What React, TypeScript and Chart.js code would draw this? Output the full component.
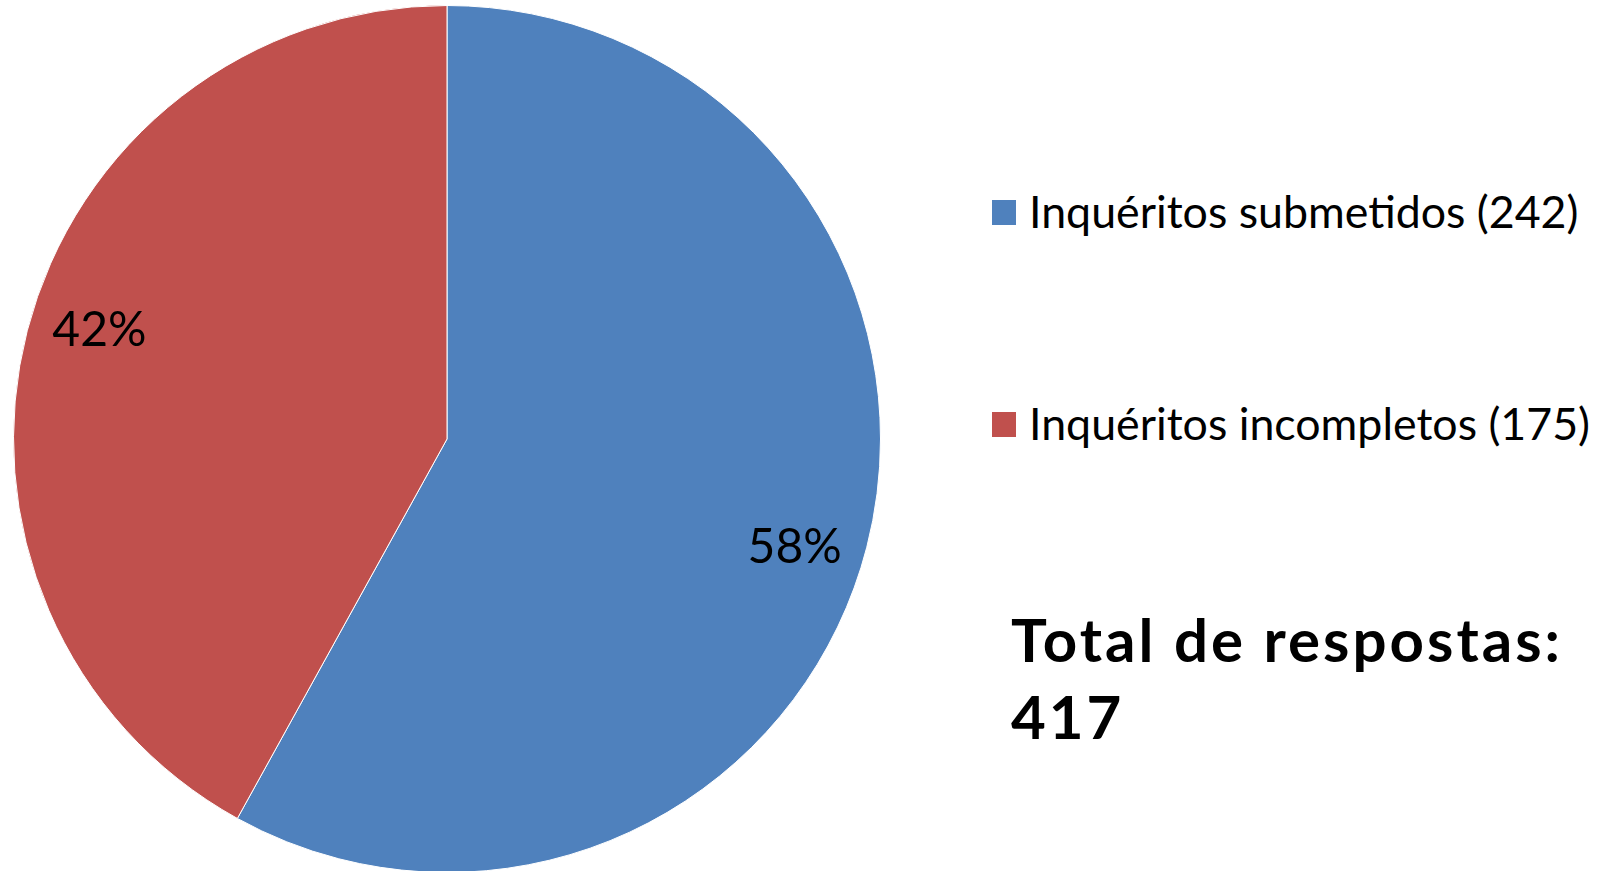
import React, { useEffect, useRef } from "react";
import { Chart, registerables } from "chart.js";

Chart.register(...registerables);

const categories = ["Inquéritos submetidos", "Inquéritos incompletos"];
const counts = [242, 175];
const colors = ["#4F81BD", "#C0504D"];
const totalTitle = "Total de respostas:";

const FONT = "Lato, 'Open Sans', 'DejaVu Sans', sans-serif";

export default function App() {
  const ref = useRef<HTMLCanvasElement>(null);

  useEffect(() => {
    const total = counts.reduce((a, b) => a + b, 0);
    const labelPlugin = {
      id: "pctLabels",
      afterDatasetsDraw(chart: any) {
        const ctx = chart.ctx;
        const meta = chart.getDatasetMeta(0);
        ctx.save();
        ctx.font = `48px ${FONT}`;
        ctx.fillStyle = "#000";
        ctx.textAlign = "center";
        ctx.textBaseline = "middle";
        meta.data.forEach((arc: any, i: number) => {
          const p = arc.getProps(["x", "y", "startAngle", "endAngle", "outerRadius"], true);
          const mid = (p.startAngle + p.endAngle) / 2 + 0.05;
          const r = p.outerRadius * 0.84;
          const pct = Math.round((counts[i] / total) * 100) + "%";
          ctx.fillText(pct, p.x + Math.cos(mid) * r, p.y + Math.sin(mid) * r);
        });
        ctx.restore();
      },
    };
    const chart = new Chart(ref.current as HTMLCanvasElement, {
      type: "pie",
      data: {
        labels: categories,
        datasets: [
          {
            data: counts,
            backgroundColor: colors,
            borderColor: "#ffffff",
            borderWidth: 1,
          },
        ],
      },
      options: {
        animation: false,
        responsive: false,
        maintainAspectRatio: false,
        layout: { padding: 0 },
        plugins: { legend: { display: false }, tooltip: { enabled: false } },
      },
      plugins: [labelPlugin],
    });
    return () => chart.destroy();
  }, []);

  const legendTops = [189, 401];
  const squareTops = [200, 412];
  const total = counts.reduce((a, b) => a + b, 0);

  return (
    <div
      style={{
        position: "fixed",
        left: 0,
        top: 0,
        width: 1612,
        height: 871,
        overflow: "hidden",
        background: "#ffffff",
        fontFamily: FONT,
      }}
    >
      <canvas
        ref={ref}
        width={868}
        height={868}
        style={{ position: "absolute", left: 13, top: 5, width: 868, height: 868 }}
      />
      {categories.map((c, i) => (
        <React.Fragment key={c}>
          <div
            style={{
              position: "absolute",
              left: 992,
              top: squareTops[i],
              width: 24,
              height: 25,
              background: colors[i],
            }}
          />
          <div
            style={{
              position: "absolute",
              left: 1029,
              top: legendTops[i],
              fontSize: 44.7,
              lineHeight: "44px",
              whiteSpace: "nowrap",
              color: "#000",
            }}
          >
            {`${c} (${counts[i]})`}
          </div>
        </React.Fragment>
      ))}
      <div
        style={{
          position: "absolute",
          left: 1011,
          top: 601,
          fontSize: 60,
          fontWeight: 700,
          letterSpacing: "3px",
          lineHeight: "77px",
          whiteSpace: "nowrap",
          color: "#000",
        }}
      >
        {totalTitle}
        <br />
        {total}
      </div>
    </div>
  );
}
